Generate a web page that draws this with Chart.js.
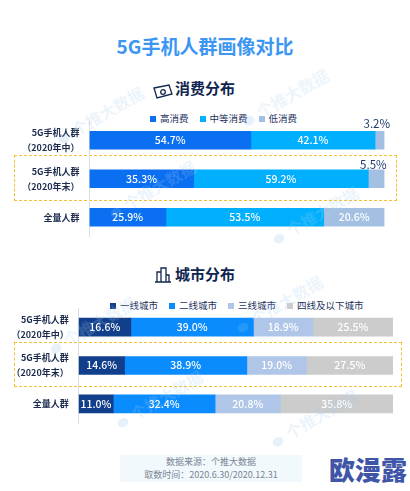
<!DOCTYPE html>
<html>
<head>
<meta charset="utf-8">
<script src="https://cdn.jsdelivr.net/npm/chart.js@4"></script>
<style>
  body { margin: 0; background: #fff; font-family: "Noto Sans CJK SC", sans-serif; }
  #page { position: relative; width: 410px; height: 491px; overflow: hidden; }
  #page > div { position: absolute; }
  .title { left: 0; width: 410px; top: 32px; text-align: center; font-size: 19px; font-weight: 700; color: #3c96f2; line-height: 28px; }
  .sub { font-size: 15px; font-weight: 700; color: #10264f; line-height: 20px; }
  .box { border: 1px dashed #f2c230; box-sizing: border-box; }
  .legend { font-size: 9.5px; color: #1c3260; line-height: 14px; white-space: nowrap; }
  .legend i { display: inline-block; width: 6px; height: 6px; margin-right: 4px; }
  .legend span { margin-right: 11px; }
  .foot { left: 120px; top: 455px; width: 182px; height: 27px; background: #f1f9fd; text-align: center; font-size: 9px; line-height: 13px; color: #7a8594; }
  .logo { left: 329px; top: 454px; font-size: 26px; font-weight: 900; color: #3f55a8; line-height: 30px; }
  .mark { font-size: 16px; font-weight: 700; color: #a9cdec; opacity: .22; transform: translate(-50%, -50%) rotate(-30deg); white-space: nowrap; pointer-events: none; z-index: 5; }
  .mark::before { content: ""; display: inline-block; width: 11px; height: 9px; border-radius: 50%; background: #8fbfe8; margin-right: 6px; }
  .chart { left: 0; width: 410px; }
</style>
</head>
<body>
<div id="page">
  <div class="title">5G手机人群画像对比</div>

  <div class="sub" style="left:175px;top:78px">消费分布</div>
  <div style="left:152px;top:81px">
    <svg width="22" height="16" viewBox="0 0 22 16" fill="none" stroke="#10264f" stroke-width="1.3">
      <path d="M2 4 L17 1 L20 10 L5 14 Z"/><circle cx="11" cy="8" r="2.3"/>
    </svg>
  </div>
  <div class="sub" style="left:175px;top:264px">城市分布</div>
  <div style="left:154px;top:265px">
    <svg width="18" height="18" viewBox="0 0 18 18" fill="none" stroke="#10264f" stroke-width="1.3">
      <path d="M1 16 H17 M3 16 V6 H7 M7 16 V2 H12 V16 M12 9 H15 V16"/>
    </svg>
  </div>

  <div class="box" style="left:14px;top:155px;width:383px;height:46px"></div>
  <div class="box" style="left:14px;top:342px;width:388px;height:45px"></div>

  <div class="legend" id="legend1" style="left:150px;top:111px"></div>
  <div class="legend" id="legend2" style="left:110px;top:298px"></div>

  <div class="chart" style="top:100px;height:140px"><canvas id="spend"></canvas></div>
  <div class="chart" style="top:285px;height:145px"><canvas id="city"></canvas></div>

  <div class="mark" style="left:100px;top:115px">个推大数据</div>
  <div class="mark" style="left:285px;top:97px">个推大数据</div>
  <div class="mark" style="left:152px;top:189px">个推大数据</div>
  <div class="mark" style="left:315px;top:215px">个推大数据</div>
  <div class="mark" style="left:92px;top:325px">个推大数据</div>
  <div class="mark" style="left:279px;top:304px">个推大数据</div>
  <div class="mark" style="left:159px;top:399px">个推大数据</div>
  <div class="mark" style="left:314px;top:418px">个推大数据</div>

  <div class="foot">数据来源：个推大数据<br>取数时间：2020.6.30/2020.12.31</div>
  <div class="logo">欧漫露</div>
</div>

<script>
const groups1 = [["5G手机人群", "（2020年中）"], ["5G手机人群", "（2020年末）"], "全量人群"];
const groups2 = [["5G手机人群", "（2020年中）"], ["5G手机人群", "（2020年末）"], "全量人群"];

const spendNames = ["高消费", "中等消费", "低消费"];
const spendColors = ["#0a6ff0", "#00b0ff", "#a3c0e3"];
const spendHigh = [54.7, 35.3, 25.9];
const spendMid = [42.1, 59.2, 53.5];
const spendLow = [3.2, 5.5, 20.6];

const cityNames = ["一线城市", "二线城市", "三线城市", "四线及以下城市"];
const cityColors = ["#123f8c", "#0a8cff", "#b0c6e8", "#cccccc"];
const cityTier1 = [16.6, 14.6, 11.0];
const cityTier2 = [39.0, 38.9, 32.4];
const cityTier3 = [18.9, 19.0, 20.8];
const cityTier4 = [25.5, 27.5, 35.8];

// percent text on the bars, thin segments get it above the bar
const barText = {
  id: "barText",
  afterDatasetsDraw(chart) {
    const ctx = chart.ctx;
    ctx.save();
    ctx.textAlign = "center";
    ctx.textBaseline = "middle";
    chart.data.datasets.forEach((ds, i) => {
      chart.getDatasetMeta(i).data.forEach((bar, j) => {
        const v = ds.data[j];
        const x = (bar.x + bar.base) / 2;
        if (v < 6) {
          ctx.font = "11.5px 'Noto Sans CJK SC'";
          ctx.fillStyle = "#1c3a6e";
          ctx.fillText(v.toFixed(1) + "%", x - 3, bar.y - (j == 0 ? 17 : 14));
        } else {
          ctx.font = "500 10.5px 'Noto Sans CJK SC'";
          ctx.fillStyle = "#fff";
          ctx.fillText(v.toFixed(1) + "%", x, bar.y);
        }
      });
    });
    ctx.restore();
  }
};

function makeBars(id, groups, names, colors, series, axisWidth, pad) {
  new Chart(id, {
    type: "bar",
    data: {
      labels: groups,
      datasets: series.map((s, i) => ({
        label: names[i],
        data: s,
        backgroundColor: colors[i],
        barThickness: 18
      }))
    },
    options: {
      indexAxis: "y",
      responsive: true,
      maintainAspectRatio: false,
      animation: false,
      layout: { padding: pad },
      plugins: { legend: { display: false }, tooltip: { enabled: false } },
      scales: {
        x: { stacked: true, min: 0, max: 100, display: false },
        y: {
          stacked: true,
          // two line labels would otherwise eat into the plot height
          afterFit: (a) => { a.width = axisWidth; a.paddingTop = 0; a.paddingBottom = 0; },
          grid: { display: false, drawTicks: false },
          border: { color: "#d5dde6" },
          ticks: {
            padding: 10,
            color: "#1c2b4d",
            font: { size: 9, weight: 700, family: "'Noto Sans CJK SC'", lineHeight: 1.67 }
          }
        }
      }
    },
    plugins: [barText]
  });
}

function makeLegend(id, names, colors) {
  document.getElementById(id).innerHTML = names.map((n, i) =>
    `<span><i style="background:${colors[i]}"></i>${n}</span>`).join("");
}

makeLegend("legend1", spendNames, spendColors);
makeLegend("legend2", cityNames, cityColors);

makeBars("spend", groups1, spendNames, spendColors, [spendHigh, spendMid, spendLow], 89.5,
  { top: 21, bottom: 3.5, left: 0, right: 25.5 });
makeBars("city", groups2, cityNames, cityColors, [cityTier1, cityTier2, cityTier3, cityTier4], 78.7,
  { top: 23, bottom: 7, left: 0, right: 17 });
</script>
</body>
</html>
